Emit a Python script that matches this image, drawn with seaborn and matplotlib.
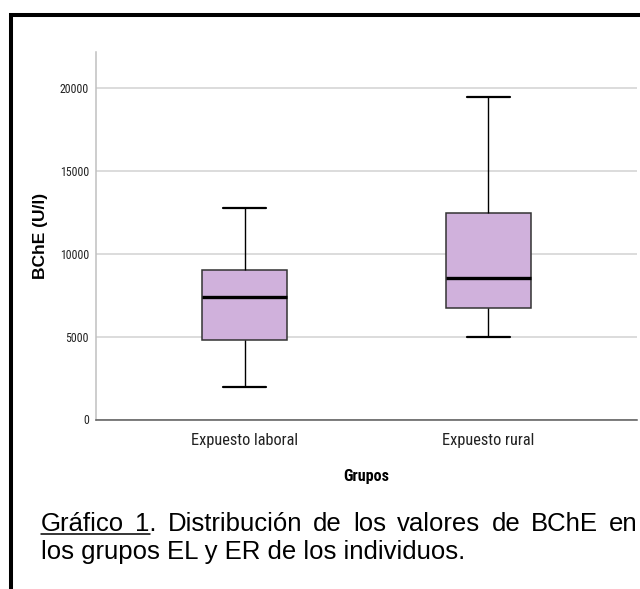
import numpy as np
import pandas as pd
import matplotlib
matplotlib.use('Agg')
import matplotlib.pyplot as plt
import seaborn as sns
from matplotlib import font_manager
from matplotlib.font_manager import FontProperties
from matplotlib.patches import Rectangle
from matplotlib.lines import Line2D

# five-number summaries (min, Q1, median, Q3, max)
grupos = ['Expuesto laboral', 'Expuesto rural']
bche_laboral = [1950, 4820, 7380, 9050, 12770]
bche_rural = [4960, 6720, 8560, 12450, 19470]
yticks = [0, 5000, 10000, 15000, 20000]

caption_1 = ['Gráfico', '1', 'Distribución', 'de', 'los', 'valores', 'de', 'BChE', 'en']
caption_2 = 'los grupos EL y ER de los individuos.'

df = pd.DataFrame({
    'Grupos': [grupos[0]] * len(bche_laboral) + [grupos[1]] * len(bche_rural),
    'BChE': bche_laboral + bche_rural,
})

# pick a narrow sans for the SPSS-like tick labels, if one exists
def narrow_font(bold=False):
    want = 'bold' if bold else 'normal'
    cands = []
    for f in font_manager.fontManager.ttflist:
        wt = 'bold' if str(f.weight) in ('bold', '700') else 'normal'
        if wt != want or f.style != 'normal':
            continue
        if 'Narrow' in f.name or f.stretch in ('condensed', 'semi-condensed'):
            cands.append(f)
    order = ['Liberation Sans Narrow', 'Roboto Condensed', 'DejaVu Sans', 'Open Sans']
    cands.sort(key=lambda f: order.index(f.name) if f.name in order else 99)
    if cands:
        return FontProperties(fname=cands[0].fname)
    return FontProperties(family='Liberation Sans', weight=want)

sns.set_style('white')
plt.rcParams['font.family'] = ['Liberation Sans', 'DejaVu Sans']
plt.rcParams['text.color'] = 'black'
plt.rcParams['axes.labelcolor'] = 'black'

W, H = 640, 589
fig = plt.figure(figsize=(W / 100, H / 100), dpi=100)
r = fig.canvas.get_renderer()

def fit(text, target, fp, rotation=0):
    # font size (pt) that gives the text the measured pixel length
    t = fig.text(0, 0, text, fontproperties=fp, fontsize=10, rotation=rotation)
    bb = t.get_window_extent(r)
    t.remove()
    size = bb.height if rotation else bb.width
    return 10 * target / size

nf = narrow_font()
nfb = narrow_font(bold=True)

ax = fig.add_axes([96 / W, 1 - 419.5 / H, (637 - 96) / W, (419.5 - 51.7) / H])

sns.boxplot(data=df, x='Grupos', y='BChE', ax=ax, whis=(0, 100), width=0.35,
            color='#D3AAE3', linecolor='black', linewidth=1.0, fliersize=0,
            boxprops=dict(edgecolor='#333333', linewidth=1.1),
            whiskerprops=dict(color='black', linewidth=1.0),
            capprops=dict(color='black', linewidth=1.6),
            medianprops=dict(color='black', linewidth=2.4), zorder=3)

ax.set_xlim(-0.61, 1.61)
ax.set_ylim(0, 22210)
ax.set_yticks(yticks)
ysize = fit('20000', 29, nf)
ax.set_yticklabels([str(v) for v in yticks], fontproperties=nf, fontsize=ysize, color='#222222')
ax.set_xticks(range(len(grupos)))
xsize = fit(grupos[0], 108, nf)
ax.set_xticklabels(grupos, fontproperties=nf, fontsize=xsize, color='#222222')
ax.tick_params(axis='x', length=0, pad=10)
ax.tick_params(axis='y', length=3, width=1, color='#bbbbbb', pad=2)

ax.grid(axis='y', color='#d2d2d2', linewidth=1.1, zorder=0)
ax.set_axisbelow(True)
for s in ['top', 'right']:
    ax.spines[s].set_visible(False)
ax.spines['left'].set_color('#c0c0c0')
ax.spines['left'].set_linewidth(1.1)
ax.spines['bottom'].set_color('#5a5a5a')
ax.spines['bottom'].set_linewidth(1.1)

ylab_fp = FontProperties(family='Liberation Sans', weight='bold')
ax.set_ylabel('BChE (U/l)', fontproperties=ylab_fp, fontsize=fit('BChE (U/l)', 86, ylab_fp))
ax.yaxis.set_label_coords((40 - 96) / (637 - 96), 0.5)
ax.set_xlabel('Grupos', fontproperties=nfb, fontsize=fit('Grupos', 46, nfb))
ax.xaxis.set_label_coords(0.5, (419.5 - 477) / (419.5 - 51.7))
ax.xaxis.label.set_verticalalignment('center')
ax.yaxis.label.set_verticalalignment('center')

# black frame (only top and left edges are in view)
fig.add_artist(Rectangle((11 / W, -0.1), 1.2, (1 - 15 / H) + 0.1, transform=fig.transFigure,
                         fill=False, edgecolor='black', linewidth=2.9, clip_on=False))

# caption, first line justified
cap_fp = FontProperties(family='Liberation Sans')
cap_size = min(18.5, fit(caption_2, 432, cap_fp))
y1 = 1 - 531 / H
y2 = 1 - 559 / H
tokens = list(caption_1)
tokens[1] = tokens[1] + '.'
texts = [fig.text(0, y1, t, fontproperties=cap_fp, fontsize=cap_size, va='baseline', ha='left')
         for t in tokens]
widths = [t.get_window_extent(r).width for t in texts]
left, right = 41, 638
gap = (right - left - sum(widths)) / (len(tokens) - 1)
x = left
starts = []
for t, w in zip(texts, widths):
    t.set_x(x / W)
    starts.append(x)
    x += w + gap
# underline under "Gráfico 1"
one = fig.text(0, y1, caption_1[1], fontproperties=cap_fp, fontsize=cap_size)
w1 = one.get_window_extent(r).width
one.remove()
fig.add_artist(Line2D([left / W, (starts[1] + w1) / W], [1 - 534 / H] * 2,
                      transform=fig.transFigure, color='black', linewidth=1.1))
fig.text(left / W, y2, caption_2, fontproperties=cap_fp, fontsize=cap_size, va='baseline', ha='left')

fig.savefig('out.png', dpi=100)
